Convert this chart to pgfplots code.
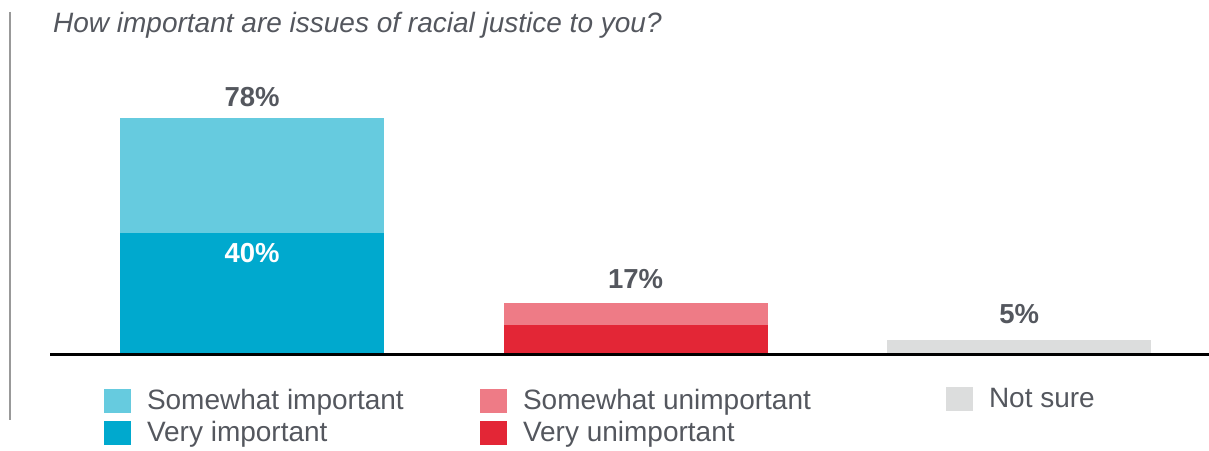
\documentclass[border=0pt]{standalone}
\usepackage{fontspec}
\setmainfont{Liberation Sans}
\usepackage{pgfplots}
\pgfplotsset{compat=1.18}
\definecolor{simp}{HTML}{66CBDF}
\definecolor{vimp}{HTML}{00A9CE}
\definecolor{sunimp}{HTML}{EE7B86}
\definecolor{vunimp}{HTML}{E32636}
\definecolor{notsure}{HTML}{DCDDDD}
\definecolor{txt}{HTML}{54575E}
\pgfplotsset{
  sqlegend/.style={
    scale only axis, width=10bp, height=10bp, hide axis,
    xmin=0, xmax=1, ymin=0, ymax=1,
    legend cell align=left,
    legend image code/.code={\fill[##1, draw=none] (0bp,-9bp) rectangle (27bp,15bp);},
    legend style={at={(0,0)}, anchor=north west, draw=none, fill=none,
      inner sep=0pt, outer sep=0pt, row sep=0bp, column sep=16bp,
      font=\fontsize{28bp}{32bp}\selectfont, text=txt,
      nodes={inner sep=0pt, text height=21bp, text depth=11bp}},
  }
}
\begin{document}
\begin{tikzpicture}
\useasboundingbox (0,0) rectangle (1209bp,451bp);
\draw[color=black!40, line width=1.5bp] (10bp,439bp) -- (10bp,31bp);
\node[anchor=base west, inner sep=0pt, text=txt,
  font=\itshape\fontsize{28bp}{32bp}\selectfont] at (53bp,418bp)
  {How important are issues of racial justice to you?};
\begin{axis}[at={(50bp,96bp)}, anchor=south west, scale only axis,
  width=1159bp, height=295bp,
  xmin=-0.527, xmax=2.495, ymin=0, ymax=97,
  ybar stacked, bar width=264bp,
  axis y line=none, axis x line*=bottom,
  x axis line style={-, black, line width=3bp},
  xtick=\empty, ytick=\empty, axis on top, clip=false,
  every axis plot/.append style={draw=none}]
\addplot[fill=vimp] coordinates {(0,40) (1,0) (2,0)};
\addplot[fill=simp] coordinates {(0,38) (1,0) (2,0)};
\addplot[fill=vunimp] coordinates {(0,0) (1,10) (2,0)};
\addplot[fill=sunimp] coordinates {(0,0) (1,7) (2,0)};
\addplot[fill=notsure] coordinates {(0,0) (1,0) (2,5)};
\coordinate (split) at (axis cs:0,40);
\node[anchor=base, text=txt, font=\bfseries\fontsize{27.5bp}{30bp}\selectfont, yshift=11bp] at (axis cs:0,78) {78\%};
\node[anchor=base, text=txt, font=\bfseries\fontsize{27.5bp}{30bp}\selectfont, yshift=15bp] at (axis cs:1,17) {17\%};
\node[anchor=base, text=txt, font=\bfseries\fontsize{27.5bp}{30bp}\selectfont, yshift=16bp] at (axis cs:2,5) {5\%};
\end{axis}
\node[anchor=base, text=white, font=\bfseries\fontsize{27.5bp}{30bp}\selectfont, yshift=-29bp] at (split) {40\%};
\begin{axis}[sqlegend, at={(104bp,63bp)}, anchor=south west]
\addlegendimage{fill=simp}\addlegendentry{Somewhat important}
\addlegendimage{fill=vimp}\addlegendentry{Very important}
\end{axis}
\begin{axis}[sqlegend, at={(480bp,63bp)}, anchor=south west]
\addlegendimage{fill=sunimp}\addlegendentry{Somewhat unimportant}
\addlegendimage{fill=vunimp}\addlegendentry{Very unimportant}
\end{axis}
\begin{axis}[sqlegend, at={(946bp,65bp)}, anchor=south west]
\addlegendimage{fill=notsure}\addlegendentry{Not sure}
\end{axis}
\end{tikzpicture}
\end{document}
